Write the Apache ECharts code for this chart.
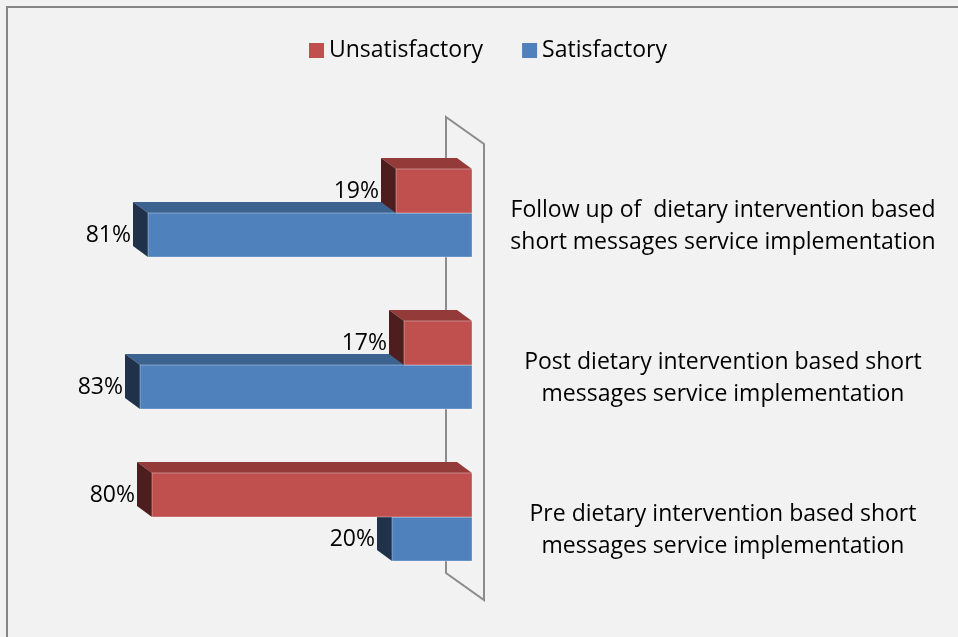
<!DOCTYPE html>
<html>
<head>
<meta charset="utf-8">
<script src="https://cdn.jsdelivr.net/npm/echarts@6/dist/echarts.min.js"></script>
<style>
  html, body { margin: 0; padding: 0; background: #f2f2f2; }
  #chart { width: 958px; height: 637px; }
</style>
</head>
<body>
<div id="chart"></div>
<script>
// bottom to top, as the category axis runs
const categories = [
  "Pre dietary intervention based short\nmessages service implementation",
  "Post dietary intervention based short\nmessages service implementation",
  "Follow up of  dietary intervention based\nshort messages service implementation"
];
const unsatisfactory = [80, 17, 19];
const satisfactory = [20, 83, 81];

const FONT = "23px 'Open Sans'";
const GRID = { left: 72, right: 486, top: 137, bottom: 44 };

// 3D-ish bar: front face, top face, dark left side, value label
function bar3d(slot, colors) {
  return function (params, api) {
    const value = api.value(0);
    const cat = api.value(1);
    const base = api.coord([0, cat]);
    const end = api.coord([value, cat]);
    const band = api.size([0, 1])[1];
    const h = band * 0.29;
    const yt = base[1] + (slot === 0 ? -h : 0);
    const yb = yt + h;
    const xr = base[0];
    const xl = end[0];
    const dx = 15, dy = 11;
    return {
      type: "group",
      children: [
        { type: "polygon", shape: { points: [[xl, yt], [xr, yt], [xr - dx, yt - dy], [xl - dx, yt - dy]] },
          style: { fill: colors.top } },
        { type: "polygon", shape: { points: [[xl, yt], [xl - dx, yt - dy], [xl - dx, yb - dy], [xl, yb]] },
          style: { fill: colors.side } },
        { type: "rect", shape: { x: xl, y: yt, width: xr - xl, height: h },
          style: { fill: colors.front, stroke: "rgba(255,255,255,0.35)", lineWidth: 1 } },
        { type: "text", x: xl - dx - 2, y: (yt + yb) / 2,
          style: { text: value + "%", align: "right", verticalAlign: "middle", font: FONT, fill: "#000" } }
      ]
    };
  };
}

const red = { front: "#C0504D", top: "#943A38", side: "#4D1E1D" };
const blue = { front: "#4F81BD", top: "#3C6290", side: "#1F3249" };

const chart = echarts.init(document.getElementById("chart"));

// wall behind the bars (pure decoration), derived from the grid box
const xr = 958 - GRID.right;
const yTop = GRID.top;
const yBot = 637 - GRID.bottom;
const wall = [
  [xr - 26, yTop - 20], [xr + 12, yTop + 7], [xr + 12, yBot + 7], [xr - 26, yBot - 20]
];

chart.setOption({
  backgroundColor: "#f2f2f2",
  animation: false,
  legend: {
    data: ["Unsatisfactory", "Satisfactory"],
    top: 39,
    left: 309,
    padding: 0,
    icon: "rect",
    itemWidth: 15,
    itemHeight: 15,
    itemGap: 39,
    textStyle: { fontFamily: "Open Sans", fontSize: 23, color: "#000" }
  },
  graphic: [
    { type: "rect", z: 0, shape: { x: 7, y: 7, width: 960, height: 640 },
      style: { fill: "none", stroke: "#878787", lineWidth: 2 } },
    { type: "polygon", z: 0, shape: { points: wall },
      style: { fill: "none", stroke: "#8c8c8c", lineWidth: 2 } }
  ],
  grid: GRID,
  xAxis: {
    type: "value", min: 0, max: 100, inverse: true, show: false
  },
  yAxis: {
    type: "category",
    data: categories,
    position: "right",
    axisLine: { show: false },
    axisTick: { show: false },
    splitLine: { show: false },
    axisLabel: {
      margin: 251,
      align: "center",
      color: "#000",
      // a short blank line on top pushes the two text lines a little below the category centre
      formatter: (v) => "{sp|\u00a0}\n" + v.split("\n").map((l) => "{t|" + l + "}").join("\n"),
      rich: {
        sp: { fontSize: 10, lineHeight: 26 },
        t: { fontFamily: "Open Sans", fontSize: 23, lineHeight: 32, color: "#000" }
      }
    }
  },
  series: [
    {
      name: "Satisfactory",
      type: "custom",
      z: 3,
      itemStyle: { color: blue.front },
      encode: { x: 0, y: 1 },
      renderItem: bar3d(1, blue),
      data: satisfactory.map((v, i) => [v, i])
    },
    {
      name: "Unsatisfactory",
      type: "custom",
      z: 4,
      itemStyle: { color: red.front },
      encode: { x: 0, y: 1 },
      renderItem: bar3d(0, red),
      data: unsatisfactory.map((v, i) => [v, i])
    }
  ]
});
</script>
</body>
</html>
